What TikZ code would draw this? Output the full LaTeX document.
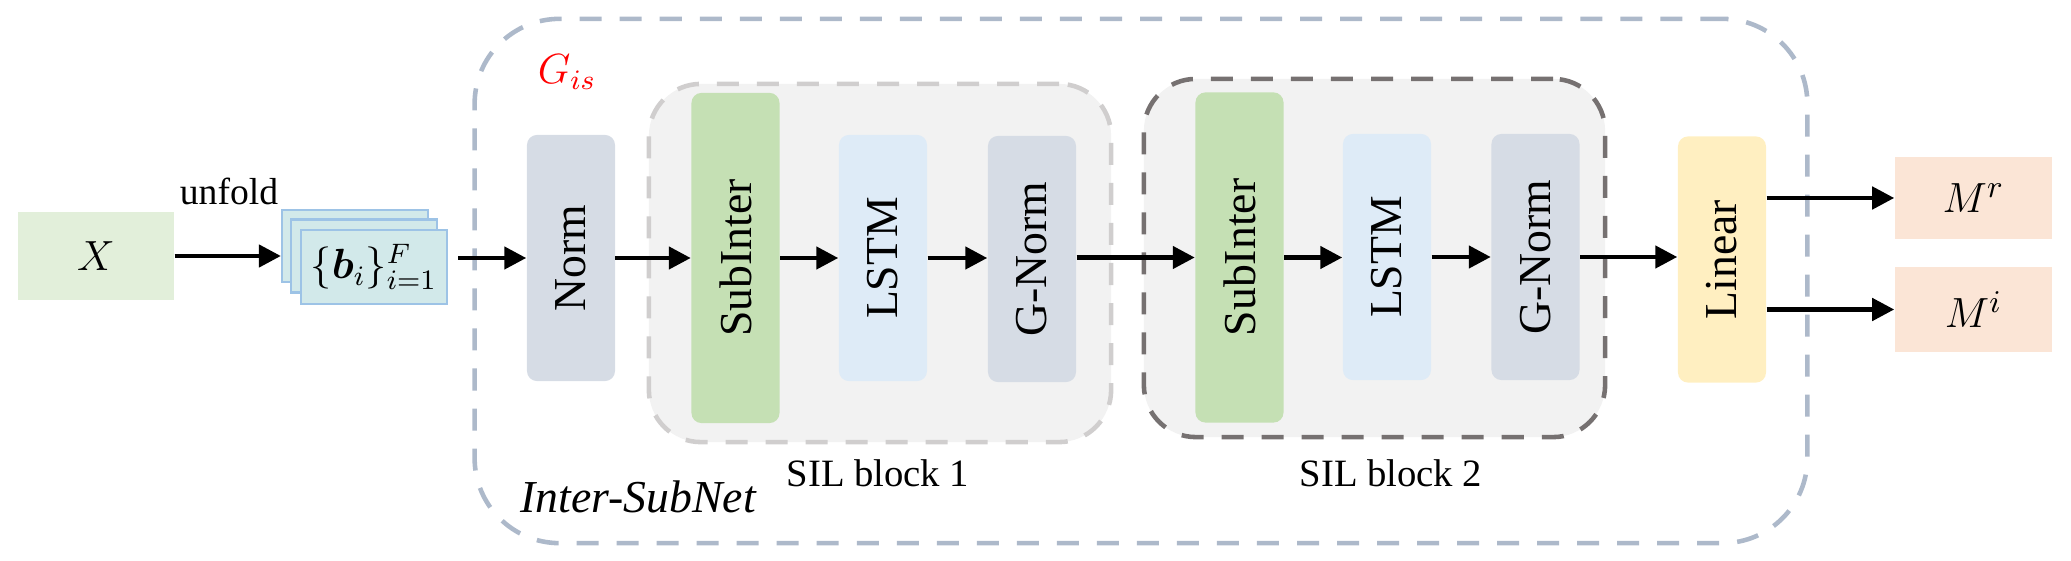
\documentclass[tikz,border=0pt]{standalone}
\usepackage{fontspec}
\setmainfont{Liberation Serif}
\usepackage{amsmath,bm}
\usepackage{graphicx}
\usetikzlibrary{arrows.meta}

\definecolor{outerline}{HTML}{ADB9CA}
\definecolor{silfill}{HTML}{F2F2F2}
\definecolor{silonel}{HTML}{D0CECE}
\definecolor{siltwol}{HTML}{767171}
\definecolor{xfill}{HTML}{E2EFDA}
\definecolor{bfill}{HTML}{D2E9EA}
\definecolor{bline}{HTML}{9DC3E6}
\definecolor{normfill}{HTML}{D6DCE5}
\definecolor{subfill}{HTML}{C5E0B4}
\definecolor{lstmfill}{HTML}{DEEBF7}
\definecolor{linfill}{HTML}{FFEFC1}
\definecolor{mfill}{HTML}{FBE5D6}

\newcommand{\vlabel}[1]{\rotatebox{90}{#1}}

\begin{document}
\begin{tikzpicture}[x=0.01cm, y=-0.01cm,
      flow/.style={-{Triangle[length=0.22cm,width=0.22cm]}, line width=1.3pt, black},
      every node/.append style={inner sep=0pt, font=\fontsize{13}{15}\selectfont},
      frame/.style={dashed, dash pattern=on 0.22cm off 0.18cm, line width=1.3pt},
      layer/.style={rounded corners=0.1cm, minimum width=0.88cm, minimum height=2.46cm},
      sublayer/.style={layer, fill=subfill, minimum height=3.3cm}]
    \tikzstyle{plain} = [rectangle, minimum width=1.57cm, minimum height=0.84cm]
    \tikzstyle{caption} = [anchor=base, font=\fontsize{11}{13}\selectfont]
    \useasboundingbox (0,0) rectangle (2071,561);

    % containers
    \node (InterSubNet) [frame, draw=outerline, rounded corners=0.85cm,
      minimum width=13.32cm, minimum height=5.24cm] at (1141,281) {};
    \node (SILa) [frame, draw=silonel, fill=silfill, rounded corners=0.52cm,
      minimum width=4.62cm, minimum height=3.58cm] at (880,263) {};
    \node (SILb) [frame, draw=siltwol, fill=silfill, rounded corners=0.52cm,
      minimum width=4.61cm, minimum height=3.58cm] at (1374.5,258) {};

    % input side
    \node (X) [plain, fill=xfill, minimum width=1.56cm, minimum height=0.87cm,
      font=\fontsize{12.5}{14}\selectfont] at (96,256) {$X$};
    \node (bback) [plain, fill=bfill, draw=bline, line width=0.6pt,
      minimum width=1.46cm, minimum height=0.72cm] at (355,246) {};
    \node (bmid) [plain, fill=bfill, draw=bline, line width=0.6pt,
      minimum width=1.46cm, minimum height=0.73cm] at (364,256) {};
    \node (bfront) [plain, fill=bfill, draw=bline, line width=0.6pt,
      minimum width=1.46cm, minimum height=0.74cm,
      font=\fontsize{12}{14}\selectfont] at (374,267) {$\{\bm{b}_i\}_{i=1}^{F}$};
    \node (unfold) [anchor=base, font=\fontsize{10.7}{12}\selectfont] at (229,205) {unfold};

    % layers
    \node (Norm) [layer, fill=normfill] at (571,258) {\vlabel{Norm}};
    \node (SubInterA) [sublayer] at (735.5,258) {\vlabel{SubInter}};
    \node (LSTMA) [layer, fill=lstmfill] at (883,258) {\vlabel{LSTM}};
    \node (GNormA) [layer, fill=normfill] at (1032,259) {\vlabel{G-Norm}};
    \node (SubInterB) [sublayer] at (1239.5,257.5) {\vlabel{SubInter}};
    \node (LSTMB) [layer, fill=lstmfill] at (1387,257) {\vlabel{LSTM}};
    \node (GNormB) [layer, fill=normfill] at (1535.5,257) {\vlabel{G-Norm}};
    \node (Linear) [layer, fill=linfill] at (1722,259.5) {\vlabel{Linear}};

    % outputs
    \node (Mr) [plain, fill=mfill, minimum height=0.82cm,
      font=\fontsize{12.5}{14}\selectfont] at (1973.5,198) {$M^{r}$};
    \node (Mi) [plain, fill=mfill, minimum height=0.85cm,
      font=\fontsize{12.5}{14}\selectfont] at (1973.5,309.5) {$M^{i}$};

    % labels
    \node (Gis) [text=red, font=\fontsize{11.5}{13}\selectfont] at (567,72) {$G_{is}$};
    \node (ISNlabel) [anchor=base west, font=\itshape\fontsize{13}{15}\selectfont]
      at (520,513) {Inter-SubNet};
    \node (SILalabel) [caption] at (878,487) {SIL block 1};
    \node (SILblabel) [caption] at (1391,487) {SIL block 2};

    % connectors
    \draw[flow] (X.east) -- (X.east -| bback.west);
    \draw[flow, shorten <=0.1cm] (bfront.east |- Norm) -- (Norm.west);
    \draw[flow] (Norm) ++(0.44cm,0) -- (SubInterA.west);
    \draw[flow] (SubInterA.east) -- (LSTMA.west);
    \draw[flow] (LSTMA.east) -- (LSTMA.east -| GNormA.west);
    \draw[flow] (GNormA.east |- SubInterB) -- (SubInterB.west);
    \draw[flow] (SubInterB.east) -- (SubInterB.east -| LSTMB.west);
    \draw[flow] (LSTMB.east) -- (GNormB.west);
    \draw[flow] (GNormB.east) -- (GNormB.east -| Linear.west);
    \draw[flow] (Linear.east |- Mr) -- (Mr.west);
    \draw[flow] (Linear.east |- Mi) -- (Mi.west);
  \end{tikzpicture}
\end{document}
